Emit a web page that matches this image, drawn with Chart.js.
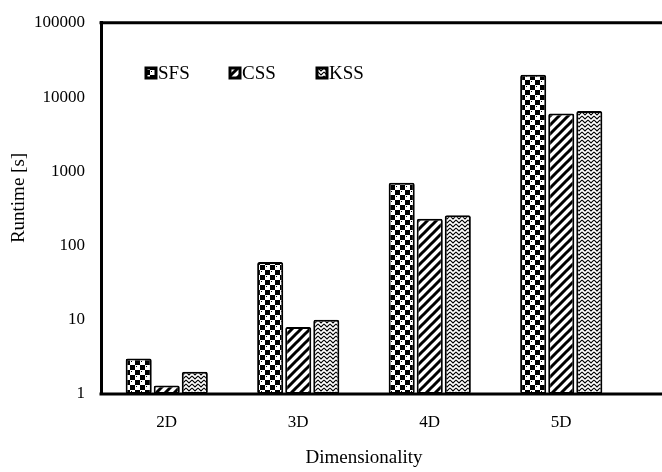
<!DOCTYPE html>
<html>
<head>
<meta charset="utf-8">
<script src="https://cdn.jsdelivr.net/npm/chart.js@4"></script>
<style>
  html, body { margin: 0; padding: 0; background: #fff; }
  #wrap { width: 662px; height: 472px; }
</style>
</head>
<body>
<div id="wrap"><canvas id="runtimeChart"></canvas></div>
<script>
const categories = ["2D", "3D", "4D", "5D"];
const sfsValues = [3, 60, 700, 20000];
const cssValues = [1.3, 8, 230, 6000];
const kssValues = [2, 10, 255, 6500];
const yTicks = [1, 10, 100, 1000, 10000, 100000];

const FONT = "'Liberation Serif', 'Times New Roman', serif";

const helper = document.createElement("canvas").getContext("2d");

// tile patterns like the excel fills
const checkPattern = (() => {
  const c = document.createElement("canvas");
  c.width = 10; c.height = 10;
  const g = c.getContext("2d");
  g.fillStyle = "#000";
  g.fillRect(0, 0, 10, 10);
  g.fillStyle = "#fff";
  g.fillRect(0, 0, 5, 5);
  g.fillRect(5, 5, 5, 5);
  g.fillStyle = "#000";
  g.fillRect(1, 1, 1, 1);
  g.fillRect(6, 6, 1, 1);
  return helper.createPattern(c, "repeat");
})();

const stripePattern = (() => {
  const c = document.createElement("canvas");
  c.width = 9; c.height = 9;
  const g = c.getContext("2d");
  g.fillStyle = "#fff";
  g.fillRect(0, 0, 9, 9);
  g.strokeStyle = "#000";
  g.lineWidth = 3;
  g.beginPath();
  g.moveTo(-2, 11); g.lineTo(11, -2);
  g.moveTo(-5, 5); g.lineTo(5, -5);
  g.moveTo(4, 14); g.lineTo(14, 4);
  g.stroke();
  return helper.createPattern(c, "repeat");
})();

const zigzagPattern = (() => {
  const c = document.createElement("canvas");
  c.width = 6; c.height = 4;
  const g = c.getContext("2d");
  g.fillStyle = "#fff";
  g.fillRect(0, 0, 6, 4);
  g.strokeStyle = "#000";
  g.lineWidth = 1.1;
  g.beginPath();
  g.moveTo(0, 0); g.lineTo(3, 3); g.lineTo(6, 0);
  g.moveTo(0, 4); g.lineTo(3, 7); g.lineTo(6, 4);
  g.moveTo(0, -4); g.lineTo(3, -1); g.lineTo(6, -4);
  g.stroke();
  return helper.createPattern(c, "repeat");
})();

// top + bottom frame lines run to the right edge of the picture
const framePlugin = {
  id: "frame",
  afterDraw(chart) {
    const { ctx, chartArea } = chart;
    ctx.save();
    ctx.strokeStyle = "#000";
    ctx.lineWidth = 3;
    ctx.beginPath();
    ctx.moveTo(chartArea.left - 1.5, chartArea.top);
    ctx.lineTo(chart.width, chartArea.top);
    ctx.moveTo(chartArea.left - 1.5, chartArea.bottom);
    ctx.lineTo(chart.width, chartArea.bottom);
    ctx.stroke();
    // y title sits a bit above the middle in the original
    ctx.translate(19, 198);
    ctx.rotate(-Math.PI / 2);
    ctx.fillStyle = "#000";
    ctx.font = "19px " + FONT;
    ctx.textAlign = "center";
    ctx.textBaseline = "middle";
    ctx.fillText("Runtime [s]", 0, 0);
    ctx.restore();
  },
};

// legend sits inside the plot, upper left
const legendPlugin = {
  id: "innerLegend",
  afterDraw(chart) {
    const { ctx } = chart;
    const xs = [145, 229, 316];
    const yMid = 73;
    ctx.save();
    chart.data.datasets.forEach((ds, i) => {
      const x = xs[i];
      ctx.fillStyle = ds.backgroundColor;
      ctx.fillRect(x, yMid - 6, 12, 12);
      ctx.strokeStyle = "#000";
      ctx.lineWidth = 3;
      ctx.strokeRect(x + 1, yMid - 5, 10, 10);
      ctx.fillStyle = "#000";
      ctx.font = "19px " + FONT;
      ctx.textBaseline = "middle";
      ctx.fillText(ds.label, x + 13, yMid + 1);
    });
    ctx.restore();
  },
};

const ctx = document.getElementById("runtimeChart").getContext("2d");

new Chart(ctx, {
  type: "bar",
  data: {
    labels: categories,
    datasets: [
      {
        label: "SFS",
        data: sfsValues,
        backgroundColor: checkPattern,
        borderColor: "#000",
        borderWidth: 2,
        borderRadius: 2,
        borderSkipped: false,
      },
      {
        label: "CSS",
        data: cssValues,
        backgroundColor: stripePattern,
        borderColor: "#000",
        borderWidth: 2,
        borderRadius: 2,
        borderSkipped: false,
      },
      {
        label: "KSS",
        data: kssValues,
        backgroundColor: zigzagPattern,
        borderColor: "#000",
        borderWidth: 2,
        borderRadius: 2,
        borderSkipped: false,
      },
    ],
  },
  options: {
    responsive: true,
    maintainAspectRatio: false,
    animation: false,
    devicePixelRatio: 1,
    categoryPercentage: 0.64,
    barPercentage: 0.93,
    layout: { padding: { top: 19, right: 35, left: 0, bottom: 0 } },
    scales: {
      x: {
        grid: { display: false, drawTicks: false },
        border: { display: false },
        ticks: { color: "#000", padding: 18, font: { family: FONT, size: 17 } },
        title: {
          display: true,
          text: "Dimensionality",
          color: "#000",
          font: { family: FONT, size: 19 },
          padding: { top: 0, bottom: 3 },
        },
        afterFit(scale) {
          scale.height = 78;
        },
      },
      y: {
        type: "logarithmic",
        min: 1,
        max: 100000,
        grid: { display: false, drawTicks: false },
        border: { display: true, color: "#000", width: 3 },
        afterBuildTicks(scale) {
          scale.ticks = yTicks.map((v) => ({ value: v }));
        },
        ticks: {
          color: "#000",
          padding: 16,
          font: { family: FONT, size: 17, lineHeight: 0.8 },
          callback: (v) => String(v),
        },
        title: { display: false },
        afterFit(scale) {
          scale.width = 101;
        },
      },
    },
    plugins: {
      legend: { display: false },
      tooltip: { enabled: false },
    },
  },
  plugins: [framePlugin, legendPlugin],
});
</script>
</body>
</html>
